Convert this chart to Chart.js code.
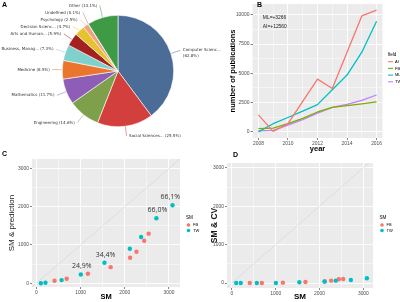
<!DOCTYPE html>
<html>
<head>
<meta charset="utf-8">
<script src="https://cdn.jsdelivr.net/npm/chart.js@4.4.0/dist/chart.umd.min.js"></script>
<style>
  body { margin: 0; background: #fff; }
  #wrap { position: relative; width: 400px; height: 302px; overflow: hidden; }
  canvas { position: absolute; }
  .tag { position: absolute; font: bold 7px "Liberation Sans", Arial, sans-serif; line-height: 7px; color: #000; }
</style>
</head>
<body>
<div id="wrap">
  <canvas id="pie" width="250" height="150" style="left:0;top:0"></canvas>
  <canvas id="lines" width="200" height="156" style="left:200px;top:0"></canvas>
  <canvas id="predict" width="200" height="152" style="left:0;top:150px"></canvas>
  <canvas id="cv" width="200" height="152" style="left:200px;top:150px"></canvas>
  <div class="tag" style="left:2px;top:1px">A</div>
  <div class="tag" style="left:257px;top:0.5px">B</div>
  <div class="tag" style="left:2px;top:150px">C</div>
  <div class="tag" style="left:233px;top:150.5px">D</div>
</div>
<script>
// Панель A: предметные области
const subjectNames = ['Computer Scienc...', 'Social Sciences...', 'Engineering', 'Mathematics', 'Medicine',
  'Business, Manag...', 'Arts and Human...', 'Decision Scienc...', 'Psychology', 'Undefined', 'Other'];
const subjectShares = [62.8, 25.5, 14.6, 11.7, 8.5, 7.3, 5.9, 4.7, 2.5, 0.1, 14.1];
const subjectColors = ['#4a6c97', '#d23f3c', '#7fa04b', '#8d5db7', '#e9762c', '#80d0cd',
  '#a3211f', '#e5c22e', '#f2a07e', '#c06c84', '#3f9a45'];

// Панель B: публикации по годам
const years = [2008, 2009, 2010, 2011, 2012, 2013, 2014, 2015, 2016];
const aiPubs = [1450, 50, 700, 2600, 4500, 3700, 6800, 9900, 10400];
const fbPubs = [280, 330, 700, 1150, 1700, 2100, 2250, 2400, 2560];
const mlPubs = [0, 700, 1230, 1780, 2330, 3600, 4850, 6800, 9450];
const twPubs = [80, 130, 580, 1050, 1600, 2100, 2350, 2700, 3150];
const fieldNames = ['AI', 'FB', 'ML', 'TW'];
const fieldColors = ['#F8766D', '#7CAE00', '#00BFC4', '#C77CFF'];
const yearTicks = [2008, 2010, 2012, 2014, 2016];
const yearMinor = [2009, 2011, 2013, 2015];
const pubTicks = [0, 2500, 5000, 7500, 10000];
const pubMinor = [1250, 3750, 6250, 8750];
const gainNotes = ['ML=+3266', 'AI=+12560'];

// Панели C и D
const smNames = ['FB', 'TW'];
const smColors = ['#F8766D', '#00BFC4'];
const fbSM = [410, 685, 1165, 1680, 2120, 2265, 2440, 2540];
const twSM = [100, 205, 570, 1005, 1540, 2115, 2370, 2715, 3080];
const fbPredict = [63, 115, 246, 420, 666, 823, 1112, 1296];
const twPredict = [0, 10, 80, 228, 535, 902, 1208, 1698, 2040];
const fbCV = [0, 0, 9, 26, 44, 61, 96, 105];
const twCV = [0, 0, 0, 0, 18, 35, 61, 79, 122];
const twShareText = ['', '', '', '24,9%', '34,4%', '', '', '66,0%', '66,1%'];
const smTicks = [0, 1000, 2000, 3000];
const smMinor = [500, 1500, 2500];

const tickFont = { family: '"Liberation Sans", Arial, sans-serif', size: 4.9 };
const tickGray = '#4d4d4d';

// серый фон панели как в ggplot
const panelBg = {
  id: 'panelBg',
  beforeDraw(chart) {
    const { ctx, chartArea: a } = chart;
    ctx.save();
    ctx.fillStyle = '#ebebeb';
    ctx.fillRect(a.left, a.top, a.width, a.height);
    ctx.restore();
  }
};

// легенда справа от панели
const sideLegend = {
  id: 'sideLegend',
  afterDraw(chart, args, o) {
    const ctx = chart.ctx;
    ctx.save();
    ctx.textBaseline = 'middle';
    ctx.fillStyle = '#000';
    ctx.font = '4.6px "Liberation Sans", Arial, sans-serif';
    ctx.fillText(o.title, o.x, o.y);
    ctx.font = '4px "Liberation Sans", Arial, sans-serif';
    chart.data.datasets.filter(d => d.label).forEach((d, i) => {
      const y = o.y + o.first + i * o.step;
      if (o.kind === 'line') {
        ctx.strokeStyle = d.borderColor;
        ctx.lineWidth = 1.1;
        ctx.beginPath();
        ctx.moveTo(o.x, y);
        ctx.lineTo(o.x + 5, y);
        ctx.stroke();
      } else {
        ctx.fillStyle = d.backgroundColor;
        ctx.beginPath();
        ctx.arc(o.x + 2.5, y, 1.8, 0, Math.PI * 2);
        ctx.fill();
      }
      ctx.fillStyle = '#000';
      ctx.fillText(d.label, o.x + 7, y);
    });
    ctx.restore();
  }
};

// подписи секторов с выносками
const pieLabels = {
  id: 'pieLabels',
  afterDatasetsDraw(chart) {
    const ctx = chart.ctx;
    const meta = chart.getDatasetMeta(0);
    const items = meta.data.map((arc, i) => {
      const p = arc.getProps(['x', 'y', 'startAngle', 'endAngle', 'outerRadius'], true);
      const a = (p.startAngle + p.endAngle) / 2;
      const r = p.outerRadius;
      return {
        i,
        x0: p.x + Math.cos(a) * (r + 0.5), y0: p.y + Math.sin(a) * (r + 0.5),
        x: p.x + Math.cos(a) * (r + 10), y: p.y + Math.sin(a) * (r + 10),
        right: Math.cos(a) >= 0
      };
    });
    // раздвигаем подписи, чтобы не налезали
    [true, false].forEach(side => {
      const g = items.filter(d => d.right === side).sort((m, n) => m.y - n.y);
      for (let k = 0; k < 400; k++) {
        for (let j = 1; j < g.length; j++) {
          const gap = g[j].y - g[j - 1].y;
          if (gap < 7) {
            const s = (7 - gap) / 2;
            g[j].y += s;
            g[j - 1].y -= s;
          }
        }
      }
    });
    ctx.save();
    ctx.font = '4px "DejaVu Sans", sans-serif';
    ctx.textBaseline = 'middle';
    items.forEach(d => {
      ctx.strokeStyle = subjectColors[d.i];
      ctx.lineWidth = 0.5;
      ctx.beginPath();
      ctx.moveTo(d.x0, d.y0);
      ctx.lineTo(d.x, d.y);
      ctx.stroke();
      const pct = '(' + subjectShares[d.i].toFixed(1) + '%)';
      let lines = [subjectNames[d.i] + ' ' + pct];
      const tx = d.right ? d.x + 2.5 : d.x - 2.5;
      if (d.right && tx + ctx.measureText(lines[0]).width > 225) {
        lines = [subjectNames[d.i], pct];
      }
      ctx.fillStyle = '#333';
      ctx.textAlign = d.right ? 'left' : 'right';
      lines.forEach((t, k) => ctx.fillText(t, tx, d.y + k * 5.5));
    });
    ctx.restore();
  }
};

// текстовые пометки на графике B
const gainText = {
  id: 'gainText',
  afterDatasetsDraw(chart) {
    const { ctx, scales } = chart;
    ctx.save();
    ctx.font = '4.9px "Liberation Sans", Arial, sans-serif';
    ctx.fillStyle = '#222';
    ctx.textBaseline = 'middle';
    gainNotes.forEach((t, i) => {
      ctx.fillText(t, scales.x.getPixelForValue(2008.3), scales.y.getPixelForValue(9725 - i * 750));
    });
    ctx.restore();
  }
};

// проценты над точками TW
const shareLabels = {
  id: 'shareLabels',
  afterDatasetsDraw(chart, args, o) {
    const { ctx, chartArea } = chart;
    const meta = chart.getDatasetMeta(o.dataset);
    ctx.save();
    ctx.font = '7px "Open Sans", sans-serif';
    ctx.fillStyle = '#333';
    ctx.textAlign = 'center';
    ctx.textBaseline = 'middle';
    meta.data.forEach((pt, i) => {
      const t = o.texts[i];
      if (!t) return;
      const w = ctx.measureText(t).width;
      ctx.fillText(t, Math.min(pt.x + 1, chartArea.right - w / 2), pt.y - 8);
    });
    ctx.restore();
  }
};

function gridAxis(major, minor, min, max, size, isX, title) {
  const all = major.concat(minor);
  const isMajor = c => c.tick && major.includes(c.tick.value);
  return {
    type: 'linear',
    min: min,
    max: max,
    afterBuildTicks: s => { s.ticks = all.map(v => ({ value: v })); },
    afterFit: s => { if (isX) s.height = size; else s.width = size; },
    border: { display: false },
    grid: {
      color: '#fff',
      lineWidth: c => isMajor(c) ? 0.9 : 0.45,
      drawTicks: true,
      tickLength: 2,
      tickWidth: 0.6,
      tickColor: c => isMajor(c) ? '#333' : 'rgba(0,0,0,0)'
    },
    ticks: {
      autoSkip: false,
      maxRotation: 0,
      padding: 1,
      color: tickGray,
      font: tickFont,
      callback: v => major.includes(v) ? String(v) : ''
    },
    title: title
  };
}

// Панель A
new Chart(document.getElementById('pie'), {
  type: 'pie',
  data: {
    labels: subjectNames,
    datasets: [{ data: subjectShares, backgroundColor: subjectColors, borderColor: '#fff', borderWidth: 0.6 }]
  },
  options: {
    responsive: false,
    animation: false,
    layout: { padding: { left: 62, right: 76, top: 15, bottom: 23 } },
    plugins: { legend: { display: false }, tooltip: { enabled: false } }
  },
  plugins: [pieLabels]
});

// Панель B
const fieldSeries = [aiPubs, fbPubs, mlPubs, twPubs];
new Chart(document.getElementById('lines'), {
  type: 'line',
  data: {
    datasets: fieldSeries.map((s, i) => ({
      label: fieldNames[i],
      data: years.map((y, k) => ({ x: y, y: s[k] })),
      borderColor: fieldColors[i],
      borderWidth: 1.3,
      borderJoinStyle: 'round',
      pointRadius: 0,
      tension: 0
    }))
  },
  options: {
    responsive: false,
    animation: false,
    layout: { padding: { top: 0.7, right: 17.5, left: 0, bottom: 0 } },
    plugins: {
      legend: { display: false },
      tooltip: { enabled: false },
      sideLegend: { title: 'field', x: 188, y: 55, first: 6.7, step: 6.7, kind: 'line' }
    },
    scales: {
      x: gridAxis(yearTicks, yearMinor, 2007.6, 2016.4, 18, true, {
        display: true, text: 'year', color: '#000',
        font: { family: '"Liberation Sans", Arial, sans-serif', size: 7.5, weight: 'bold' },
        padding: { top: 0, bottom: 2.5 }
      }),
      y: gridAxis(pubTicks, pubMinor, -520, 10920, 52.5, false, {
        display: true, text: 'number of publications', color: '#000',
        font: { family: '"Liberation Sans", Arial, sans-serif', size: 7.5, weight: 'bold' },
        padding: { top: 28.5, bottom: 0 }
      })
    }
  },
  plugins: [panelBg, gainText, sideLegend]
});

// Панели C и D
function smChart(id, fbY, twY, range, area, yTitle, yTitleFont, yTitlePad, labels) {
  const plugins = {
    legend: { display: false },
    tooltip: { enabled: false },
    sideLegend: { title: 'SM', x: area.legendX, y: 68, first: 7, step: 5.5, kind: 'dot' }
  };
  if (labels) plugins.shareLabels = { dataset: 1, texts: labels };
  return new Chart(document.getElementById(id), {
    type: 'scatter',
    data: {
      datasets: [
        { label: smNames[0], data: fbSM.map((x, i) => ({ x: x, y: fbY[i] })), backgroundColor: smColors[0], borderColor: smColors[0], pointRadius: 2.2, borderWidth: 0, order: 1 },
        { label: smNames[1], data: twSM.map((x, i) => ({ x: x, y: twY[i] })), backgroundColor: smColors[1], borderColor: smColors[1], pointRadius: 2.2, borderWidth: 0, order: 0 },
        { type: 'line', data: [{ x: -200, y: -200 }, { x: 3300, y: 3300 }], borderColor: '#cfcfcf', borderWidth: 0.5, pointRadius: 0, order: 5 }
      ]
    },
    options: {
      responsive: false,
      animation: false,
      layout: { padding: { top: area.top, right: area.right, left: 0, bottom: 0 } },
      plugins: plugins,
      scales: {
        x: gridAxis(smTicks, smMinor, range.x0, range.x1, area.xh, true, {
          display: true, text: 'SM', color: '#000',
          font: { family: '"Liberation Sans", Arial, sans-serif', size: area.xFont, weight: 'bold' },
          padding: { top: 0, bottom: 0.5 }
        }),
        y: gridAxis(smTicks, smMinor, range.y0, range.y1, area.yw, false, {
          display: true, text: yTitle, color: '#1a1a1a',
          font: yTitleFont,
          padding: { top: yTitlePad, bottom: 0 }
        })
      }
    },
    plugins: labels ? [panelBg, shareLabels, sideLegend] : [panelBg, sideLegend]
  });
}

smChart('predict', fbPredict, twPredict,
  { x0: -100, x1: 3250, y0: -100, y1: 3250 },
  { top: 9, right: 20, xh: 15, yw: 32, xFont: 7.5, legendX: 186 },
  'SM & prediction', { family: '"Liberation Sans", Arial, sans-serif', size: 8 }, 7.2, twShareText);

smChart('cv', fbCV, twCV,
  { x0: -110, x1: 3220, y0: -130, y1: 3125 },
  { top: 13, right: 27, xh: 14, yw: 27, xFont: 8, legendX: 179.5 },
  'SM & CV', { family: '"Liberation Sans", Arial, sans-serif', size: 8.5, weight: 'bold' }, 9.9, null);
</script>
</body>
</html>
